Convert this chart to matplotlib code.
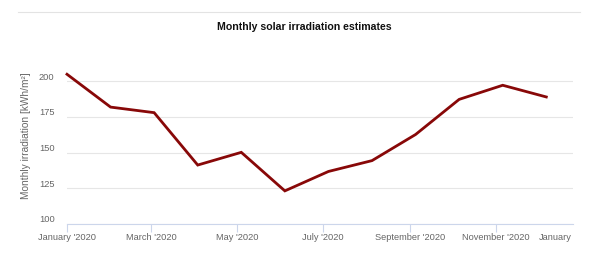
import matplotlib
matplotlib.use("Agg")
import matplotlib.pyplot as plt
from matplotlib.transforms import ScaledTranslation
import pandas as pd

# ---- data ----
point_dates = ["2020-01-01", "2020-02-01", "2020-03-03", "2020-04-03", "2020-05-04",
               "2020-06-04", "2020-07-05", "2020-08-05", "2020-09-05", "2020-10-06",
               "2020-11-06", "2020-12-07"]
irradiation = [204.9, 181.9, 178.0, 141.3, 150.2, 123.2, 136.8, 144.4, 162.7, 187.3, 197.2, 189.0]
tick_dates = ["2020-01-01", "2020-03-01", "2020-05-01", "2020-07-01", "2020-09-01", "2020-11-01"]
tick_labels = ["January '2020", "March '2020", "May '2020", "July '2020",
               "September '2020", "November '2020"]
last_label = "January"
y_ticks = [100, 125, 150, 175, 200]
title = "Monthly solar irradiation estimates"
y_title = "Monthly irradiation [kWh/m²]"

plt.rcParams['font.family'] = ['Liberation Sans', 'DejaVu Sans']

W, H = 597, 256
fig = plt.figure(figsize=(W / 100, H / 100), dpi=100)
left, right, bottom, top = 67, 573, 224, 47
ax = fig.add_axes([left / W, (H - bottom) / H, (right - left) / W, (bottom - top) / H])

origin = pd.Timestamp("2020-01-01")
xs = [(pd.Timestamp(d) - origin).days for d in point_dates]
txs = [(pd.Timestamp(d) - origin).days for d in tick_dates]

ax.plot(xs, irradiation, color='#880808', lw=2.0, solid_joinstyle='miter', zorder=3, clip_on=False)

ax.set_xlim(0, 360)
ax.set_ylim(100, 224)
ax.set_yticks(y_ticks)
ax.set_yticklabels([str(v) for v in y_ticks])
ax.set_xticks(txs)
ax.set_xticklabels(tick_labels)

for s in ['top', 'right', 'left']:
    ax.spines[s].set_visible(False)
ax.spines['bottom'].set_color('#ccd6eb')
ax.spines['bottom'].set_linewidth(0.8)

ax.grid(axis='y', color='#e6e6e6', lw=0.8)
ax.set_axisbelow(True)
ax.tick_params(axis='y', length=0, pad=9.0, labelsize=6.7, labelcolor='#666666')
ax.tick_params(axis='x', length=5.5, width=0.8, color='#ccd6eb', pad=1.2,
               labelsize=6.7, labelcolor='#666666')

off = ScaledTranslation(0, 5 / 100, fig.dpi_scale_trans)
for lab in ax.get_yticklabels():
    lab.set_transform(lab.get_transform() + off)

# last truncated label at right edge, aligned like the other x labels
lab0 = ax.get_xticklabels()[0]
fig.canvas.draw()
bb = lab0.get_window_extent()
fig.text(572 / W, bb.y1 / fig.bbox.height, last_label, ha='right', va='top',
         fontsize=6.7, color='#666666')

ax.set_ylabel(y_title, fontsize=7.3, color='#666666')
ax.yaxis.set_label_coords(-(67 - 31.5) / (right - left), 0.5)

fig.text(304.5 / W, (H - 27) / H, title, ha='center', va='center', fontsize=7.6,
         fontweight='bold', color='#111111')

# thin separator line at top
fig.add_artist(plt.Line2D([18 / W, 580 / W], [(H - 12) / H] * 2, color='#e3e3e3', lw=0.8))

fig.savefig("out.png", dpi=100)
